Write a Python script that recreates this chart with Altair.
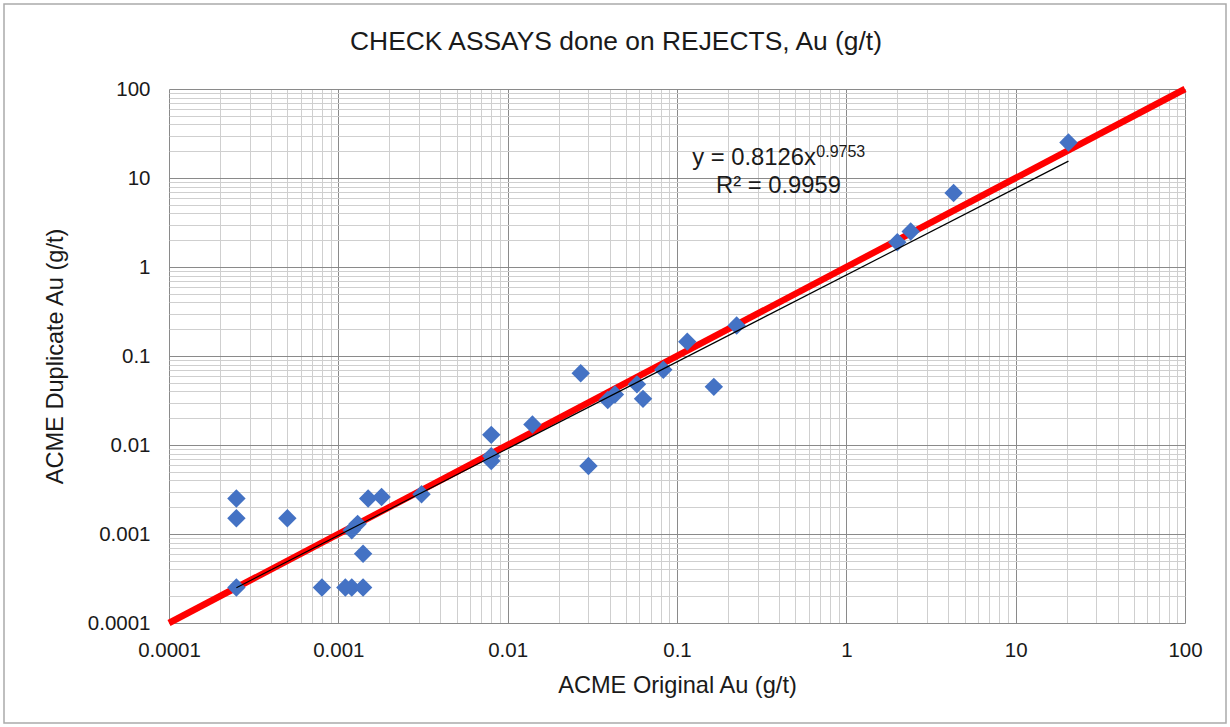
import altair as alt
import pandas as pd

# ---------------- data ----------------
orig_au = [0.00025, 0.00025, 0.00025, 0.0005, 0.0008, 0.0011, 0.0012, 0.0014,
           0.0014, 0.0012, 0.0013, 0.0015, 0.0018, 0.0031, 0.008, 0.008,
           0.008, 0.014, 0.027, 0.030, 0.039, 0.043, 0.058, 0.063,
           0.083, 0.115, 0.165, 0.225, 2.0, 2.4, 4.3, 20.5]
dup_au = [0.0025, 0.0015, 0.00025, 0.0015, 0.00025, 0.00025, 0.00025, 0.00025,
          0.0006, 0.0011, 0.0013, 0.0025, 0.0026, 0.0028, 0.013, 0.0075,
          0.0066, 0.017, 0.064, 0.0058, 0.032, 0.037, 0.048, 0.033,
          0.070, 0.145, 0.045, 0.22, 1.9, 2.5, 6.8, 25.0]

# fitted power trendline shown on the chart: y = a * x^b
trend_a = 0.8126
trend_b = 0.9753
eq_text = "y = 0.8126x"
eq_sup = "0.9753"
r2_text = "R² = 0.9959"

# 1:1 reference line
one_to_one = [0.0001, 100]

# annotation anchors (data coordinates)
eq_pos = (0.123, 14.0)
sup_pos = (0.665, 17.1)
r2_pos = (0.170, 6.78)

chart_title = "CHECK ASSAYS done on REJECTS, Au (g/t)"
x_title = "ACME Original Au (g/t)"
y_title = "ACME Duplicate Au (g/t)"

# log grid: 1..9 x each decade
grid_vals = [float(f"{m}e{e}") for e in range(-4, 2) for m in range(1, 10)] + [100.0]

FONT = "Liberation Sans"
TXT = "#1a1a1a"
major = "abs(log(datum.value)/LN10 - round(log(datum.value)/LN10)) < 0.001"
grid_color = {"condition": {"test": major, "value": "#8a8a8a"}, "value": "#cfcfcf"}
label_expr = f"({major}) ? format(datum.value, '~g') : ''"

xscale = alt.Scale(type="log", domain=[0.0001, 100], nice=False)
yscale = alt.Scale(type="log", domain=[0.0001, 100], nice=False)

x_axis = alt.Axis(values=grid_vals, labelExpr=label_expr, grid=True, gridColor=grid_color,
                  gridWidth=1, domain=False, ticks=False, tickSize=0, labelFlush=False,
                  labelOverlap=False, labelFont=FONT, labelFontSize=20.5, labelColor=TXT,
                  labelPadding=33.5, labelBaseline="alphabetic",
                  titleFont=FONT, titleFontSize=23.6, titleFontWeight="normal", titleColor=TXT,
                  titleX=508, titleY=69, titleBaseline="alphabetic")
y_axis = alt.Axis(values=grid_vals, labelExpr=label_expr, grid=True, gridColor=grid_color,
                  gridWidth=1, domain=False, ticks=False, tickSize=0, labelFlush=False,
                  labelOverlap=False, labelFont=FONT, labelFontSize=20.5, labelColor=TXT,
                  labelPadding=19,
                  titleFont=FONT, titleFontSize=23.6, titleFontWeight="normal", titleColor=TXT,
                  titleX=-107, titleY=267, titleBaseline="alphabetic", titleAngle=270)

X = alt.X("x:Q", scale=xscale, axis=x_axis, title=x_title)
Y = alt.Y("y:Q", scale=yscale, axis=y_axis, title=y_title)

pts = pd.DataFrame({"x": orig_au, "y": dup_au})
ref = pd.DataFrame({"x": one_to_one, "y": one_to_one})
tx = [min(orig_au), max(orig_au)]
trend = pd.DataFrame({"x": tx, "y": [trend_a * v ** trend_b for v in tx]})
eq_df = pd.DataFrame({"x": [eq_pos[0], r2_pos[0]], "y": [eq_pos[1], r2_pos[1]],
                      "t": [eq_text, r2_text]})
sup_df = pd.DataFrame({"x": [sup_pos[0]], "y": [sup_pos[1]], "t": [eq_sup]})
one = pd.DataFrame({"t": [chart_title]})

border = alt.Chart(one).mark_rect(fillOpacity=0, stroke="#ababab", strokeWidth=1.5).encode(
    x=alt.value(-165), x2=alt.value(1057), y=alt.value(-85), y2=alt.value(634))

red = alt.Chart(ref).mark_line(color="#FF0000", strokeWidth=6.5).encode(x=X, y=Y)
points = alt.Chart(pts).mark_point(shape="diamond", filled=True, size=340,
                                   color="#4472C4", opacity=1).encode(x=X, y=Y)
black = alt.Chart(trend).mark_line(color="#000000", strokeWidth=1.2).encode(x=X, y=Y)
eq = alt.Chart(eq_df).mark_text(align="left", baseline="alphabetic", font=FONT,
                                fontSize=23.8, color=TXT).encode(x=X, y=Y, text="t:N")
sup = alt.Chart(sup_df).mark_text(align="left", baseline="alphabetic", font=FONT,
                                  fontSize=16, color=TXT).encode(x=X, y=Y, text="t:N")
title = alt.Chart(one).mark_text(align="center", baseline="alphabetic", font=FONT,
                                 fontSize=26.4, color=TXT).encode(
    x=alt.value(447), y=alt.value(-39.5), text="t:N")

chart = alt.layer(red, border, points, black, eq, sup, title).properties(
    width=1016, height=534,
    autosize=alt.AutoSizeParams(type="none"),
    padding={"left": 169, "top": 89, "right": 45, "bottom": 104},
    background="white",
).configure_view(stroke=None)

chart.save("out.html", embed_options={"renderer": "svg", "actions": False})
